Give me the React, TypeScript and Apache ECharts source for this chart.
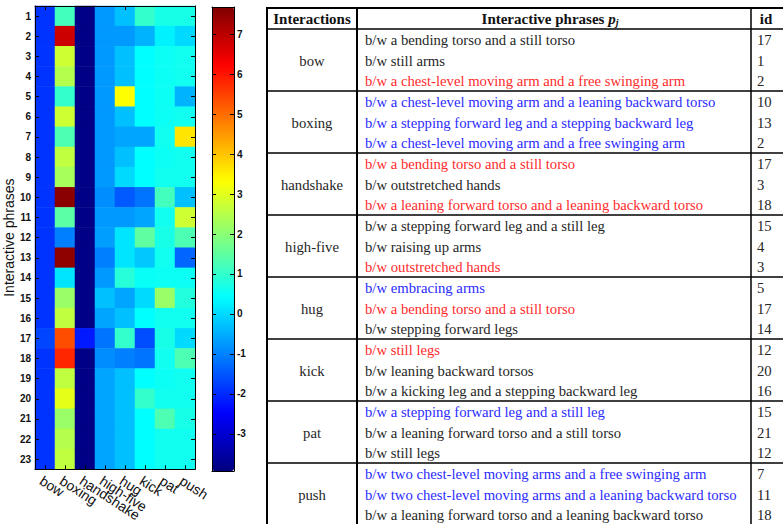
import React, { useEffect, useRef } from 'react';
import * as echarts from 'echarts';

// ---------- heatmap data ----------
const interactions = ['bow', 'boxing', 'handshake', 'high-five', 'hug', 'kick', 'pat', 'push'];
const phraseLabels = ['1', '2', '3', '4', '5', '6', '7', '8', '9', '10', '11', '12', '13', '14', '15', '16', '17', '18', '19', '20', '21', '22', '23'];

const bowValues = [-1.9, -1.9, -1.9, -1.9, -1.9, -1.9, -1.9, -1.9, -1.9, -1.9, -1.9, -1.9, -1.9, -1.9, -1.9, -1.9, -1.7, -1.9, -1.9, -1.9, -1.9, -1.9, -1.9];
const boxingValues = [1.17, 6.81, 2.75, 2.46, 1.0, 2.75, 1.29, 2.6, 2.31, 7.56, 1.44, -1.03, 7.5, 0.13, 2.17, 2.6, 5.36, 5.8, 2.6, 3.04, 2.17, 2.46, 2.6];
const handshakeValues = [-3.85, -3.85, -3.85, -3.85, -3.85, -3.85, -3.85, -3.85, -3.85, -3.85, -3.85, -3.85, -3.85, -3.85, -3.85, -3.85, -2.2, -3.85, -3.85, -3.85, -3.85, -3.85, -3.85];
const highFiveValues = [-0.74, -0.74, -0.74, -0.74, -0.74, -0.74, -0.74, -0.74, -0.74, -0.88, -0.74, -0.68, -1.03, -0.74, -0.3, -0.6, -1.17, -0.88, -0.6, -0.6, -0.6, -0.6, -0.6];
const hugValues = [-0.3, -0.74, -0.3, -0.3, 3.33, -0.3, -0.6, -0.3, 0.0, -1.46, -0.74, 0.13, 0.13, 0.86, -0.6, -0.3, 1.0, -1.03, -0.3, -0.3, -0.3, -0.3, -0.3];
const kickValues = [1.0, -0.45, 0.42, 0.42, 0.42, 0.42, -0.6, 0.42, 0.42, -1.17, -0.6, 1.5, -0.2, 0.5, 0.0, 0.42, -1.61, -1.17, 0.42, 1.0, 0.42, 0.42, 0.42];
const patValues = [0.7, 0.28, 0.55, 0.55, 0.55, 0.55, 0.6, 0.55, 0.6, 1.17, 0.6, 0.7, 0.6, 0.55, 2.17, 0.6, 0.7, 0.6, 0.55, 0.6, 1.29, 0.6, 0.6];
const pushValues = [0.7, -0.01, 0.6, 0.6, -0.45, 0.6, 3.62, 0.6, 0.6, -0.3, 2.75, 1.29, -1.32, 0.55, 0.8, 0.6, 0.0, 1.29, 0.6, 0.6, 0.7, 0.6, 0.6];

const columnValues = [bowValues, boxingValues, handshakeValues, highFiveValues, hugValues, kickValues, patValues, pushValues];

const colorMin = -3.93;
const colorMax = 7.68;
const colorbarTicks = [-3, -2, -1, 0, 1, 2, 3, 4, 5, 6, 7];

// ---------- table data ----------
const tableHeaders = ['Interactions', 'Interactive phrases ', 'id'];
const tableGroups = ['bow', 'boxing', 'handshake', 'high-five', 'hug', 'kick', 'pat', 'push'];
const tablePhrases = [
  ['b/w a bending torso and a still torso', 'b/w still arms', 'b/w a chest-level moving arm and a free swinging arm'],
  ['b/w a chest-level moving arm and a leaning backward torso', 'b/w a stepping forward leg and a stepping backward leg', 'b/w a chest-level moving arm and a free swinging arm'],
  ['b/w a bending torso and a still torso', 'b/w outstretched hands', 'b/w a leaning forward torso and a leaning backward torso'],
  ['b/w a stepping forward leg and a still leg', 'b/w raising up arms', 'b/w outstretched hands'],
  ['b/w embracing arms', 'b/w a bending torso and a still torso', 'b/w stepping forward legs'],
  ['b/w still legs', 'b/w leaning backward torsos', 'b/w a kicking leg and a stepping backward leg'],
  ['b/w a stepping forward leg and a still leg', 'b/w a leaning forward torso and a still torso', 'b/w still legs'],
  ['b/w two chest-level moving arms and a free swinging arm', 'b/w two chest-level moving arms and a leaning backward torso', 'b/w a leaning forward torso and a leaning backward torso'],
];
const tableIds = [
  [17, 1, 2], [10, 13, 2], [17, 3, 18], [15, 4, 3], [5, 17, 14], [12, 20, 16], [15, 21, 12], [7, 11, 18],
];
// k = plain, r = red highlight, b = blue highlight
const tableMarks = [
  ['k', 'k', 'r'], ['b', 'b', 'b'], ['r', 'k', 'r'], ['k', 'k', 'r'], ['b', 'r', 'k'], ['r', 'k', 'k'], ['b', 'k', 'k'], ['b', 'b', 'k'],
];

const markColor: Record<string, string> = { k: '#262626', r: '#ff2b2b', b: '#2b2bff' };

const SERIF = '"Liberation Serif", "Times New Roman", serif';
const SANS = '"Liberation Sans", Helvetica, Arial, sans-serif';

function measure(text: string, font: string): number {
  const c = document.createElement('canvas').getContext('2d');
  if (!c) return text.length * 7;
  c.font = font;
  return c.measureText(text).width;
}

function buildTable(): any[] {
  const els: any[] = [];
  const xL = 267, xM = 357, xR = 751, xEnd = 783;
  const yTop = 8, yHead = 29, gH = 62;
  const rowOff = [11, 31.5, 52];
  const fs = 14.7;
  const line = (x1: number, y1: number, x2: number, y2: number, w: number) => ({
    type: 'line', silent: true, shape: { x1, y1, x2, y2 }, style: { stroke: '#000', lineWidth: w },
  });
  els.push(line(xL - 1, yTop, xEnd, yTop, 1.8));
  els.push(line(xL, yHead, xEnd, yHead, 1.5));
  for (let g = 1; g < tableGroups.length; g++) {
    const y = yHead + g * gH;
    els.push(line(xL, y, xEnd, y, 1.5));
  }
  els.push(line(xL, yTop, xL, 524, 2));
  els.push(line(xM, yTop, xM, 524, 2));
  els.push(line(xR, yTop, xR, 524, 1.5));

  const headY = 18.5;
  const boldFont = `bold 15px ${SERIF}`;
  els.push({ type: 'text', x: (xL + xM) / 2, y: headY, style: { text: tableHeaders[0], fill: '#111', fontSize: 15, fontWeight: 'bold', fontFamily: SERIF, align: 'center', verticalAlign: 'middle' } });
  const w1 = measure(tableHeaders[1], boldFont);
  const wp = measure('p', `italic bold 15px ${SERIF}`);
  const wj = measure('j', `italic bold 10px ${SERIF}`);
  const start = 550 - (w1 + wp + wj) / 2;
  els.push({ type: 'text', x: start, y: headY, style: { text: tableHeaders[1], fill: '#111', fontSize: 15, fontWeight: 'bold', fontFamily: SERIF, align: 'left', verticalAlign: 'middle' } });
  els.push({ type: 'text', x: start + w1, y: headY, style: { text: 'p', fill: '#111', fontSize: 15, fontWeight: 'bold', fontStyle: 'italic', fontFamily: SERIF, align: 'left', verticalAlign: 'middle' } });
  els.push({ type: 'text', x: start + w1 + wp, y: headY + 4, style: { text: 'j', fill: '#111', fontSize: 10, fontWeight: 'bold', fontStyle: 'italic', fontFamily: SERIF, align: 'left', verticalAlign: 'middle' } });
  els.push({ type: 'text', x: 766, y: headY, style: { text: tableHeaders[2], fill: '#111', fontSize: 15, fontWeight: 'bold', fontFamily: SERIF, align: 'center', verticalAlign: 'middle' } });

  tableGroups.forEach((name, g) => {
    const gy = yHead + g * gH;
    els.push({ type: 'text', x: (xL + xM) / 2, y: gy + 31.5, style: { text: name, fill: '#262626', fontSize: fs, fontFamily: SERIF, align: 'center', verticalAlign: 'middle' } });
    tablePhrases[g].forEach((p, r) => {
      const col = markColor[tableMarks[g][r]];
      els.push({ type: 'text', x: 365, y: gy + rowOff[r], style: { text: p, fill: col, fontSize: fs, fontFamily: SERIF, align: 'left', verticalAlign: 'middle' } });
      els.push({ type: 'text', x: 757, y: gy + rowOff[r], style: { text: String(tableIds[g][r]), fill: '#262626', fontSize: fs, fontFamily: SERIF, align: 'left', verticalAlign: 'middle' } });
    });
  });
  return els;
}

const jet = ['#00007F', '#0000FF', '#0080FF', '#00FFFF', '#80FF80', '#FFFF00', '#FF8000', '#FF0000', '#7F0000'];

export default function App() {
  const ref = useRef<HTMLDivElement>(null);
  useEffect(() => {
    if (!ref.current) return;
    const chart = echarts.init(ref.current, undefined, { renderer: 'svg' });
    const data: any[] = [];
    columnValues.forEach((col, x) => col.forEach((v, y) => data.push([x, y, v])));

    const tickAx = { show: true, inside: true, length: 4, alignWithLabel: true, lineStyle: { color: '#000', width: 1 } };
    const lineAx = { show: true, onZero: false, lineStyle: { color: '#000', width: 1 } };

    chart.setOption({
      animation: false,
      textStyle: { fontFamily: SANS },
      grid: [
        { left: 35, top: 6, width: 160, height: 465 },
        { left: 212, top: 7, width: 22, height: 464 },
      ],
      xAxis: [
        {
          type: 'category', gridIndex: 0, data: interactions, position: 'bottom', z: 10,
          axisLine: lineAx, axisTick: tickAx, splitLine: { show: false },
          axisLabel: { rotate: -33, align: 'left', verticalAlign: 'top', margin: 4, fontSize: 14, color: '#111', interval: 0 },
        },
        {
          type: 'category', gridIndex: 0, data: interactions, position: 'top', z: 10,
          axisLine: lineAx, axisTick: tickAx, axisLabel: { show: false }, splitLine: { show: false },
        },
        { type: 'value', gridIndex: 1, min: 0, max: 1, position: 'bottom', z: 10, axisLine: lineAx, axisTick: { show: false }, axisLabel: { show: false }, splitLine: { show: false } },
        { type: 'value', gridIndex: 1, min: 0, max: 1, position: 'top', z: 10, axisLine: lineAx, axisTick: { show: false }, axisLabel: { show: false }, splitLine: { show: false } },
      ],
      yAxis: [
        {
          type: 'category', gridIndex: 0, data: phraseLabels, inverse: true, position: 'left', z: 10,
          axisLine: lineAx, axisTick: tickAx, splitLine: { show: false },
          axisLabel: { fontSize: 10, fontWeight: 'bold', color: '#111', margin: 4, interval: 0 },
          name: 'Interactive phrases', nameLocation: 'middle', nameGap: 18,
          nameTextStyle: { fontSize: 14, color: '#111' },
        },
        {
          type: 'category', gridIndex: 0, data: phraseLabels, inverse: true, position: 'right', z: 10,
          axisLine: lineAx, axisTick: tickAx, axisLabel: { show: false }, splitLine: { show: false },
        },
        {
          type: 'value', gridIndex: 1, min: colorMin, max: colorMax, position: 'left', z: 10,
          axisLine: lineAx, splitLine: { show: false },
          axisTick: { show: true, inside: true, length: 4, customValues: colorbarTicks, lineStyle: { color: '#000' } },
          axisLabel: { show: false },
        },
        {
          type: 'value', gridIndex: 1, min: colorMin, max: colorMax, position: 'right', z: 10,
          axisLine: lineAx, splitLine: { show: false },
          axisTick: { show: true, inside: true, length: 4, customValues: colorbarTicks, lineStyle: { color: '#000' } },
          axisLabel: { show: true, customValues: colorbarTicks, fontSize: 10, fontWeight: 'bold', color: '#111', margin: 3 },
        },
      ],
      visualMap: {
        type: 'continuous', min: colorMin, max: colorMax, seriesIndex: 0, calculable: false,
        orient: 'vertical', left: 212, top: 7, itemWidth: 22, itemHeight: 464, padding: 0,
        inRange: { color: jet }, hoverLink: false, show: true, z: 2,
      },
      series: [
        {
          type: 'heatmap', xAxisIndex: 0, yAxisIndex: 0, data, silent: true,
          itemStyle: { borderWidth: 0 }, emphasis: { disabled: true }, progressive: 0,
        },
      ],
      graphic: buildTable(),
    });
    return () => chart.dispose();
  }, []);
  return <div ref={ref} style={{ position: 'fixed', left: 0, top: 0, width: 783, height: 524, background: '#fff' }} />;
}
